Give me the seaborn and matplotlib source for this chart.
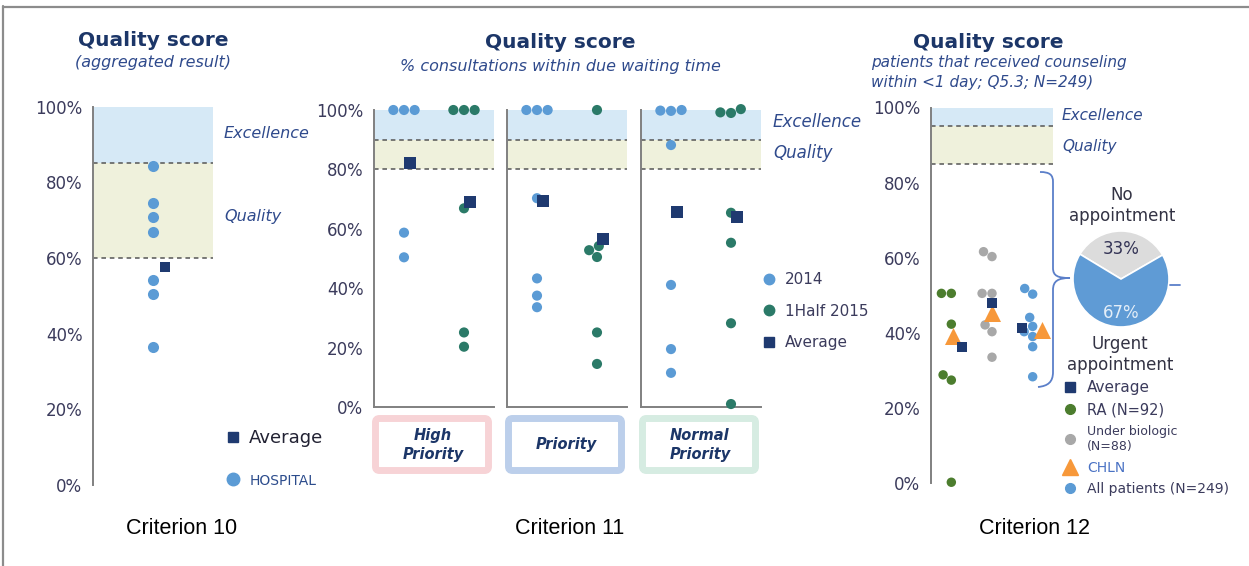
import matplotlib
matplotlib.use("Agg")
import matplotlib.pyplot as plt
import numpy as np
import pandas as pd
import seaborn as sns
from matplotlib.lines import Line2D
from matplotlib.patches import FancyBboxPatch, PathPatch
from matplotlib.path import Path
from matplotlib.ticker import FuncFormatter

W, H = 1249, 566

# ---- data ----
C10_HOSPITAL = [84.3, 74.5, 70.8, 67.0, 54.2, 50.4, 36.4]
C10_AVERAGE = 57.5
C10_BANDS = (60, 85)

C11_PRIORITIES = ["High\nPriority", "Priority", "Normal\nPriority"]
C11_PERIODS = ["2014", "1Half 2015"]
C11_2014 = [
    [100, 100, 100, 58.7, 50.4],
    [100, 100, 100, 70.3, 43.3, 37.5, 33.6],
    [100, 99.8, 99.7, 88.2, 41.1, 19.5, 11.5],
]
C11_2015 = [
    [100, 100, 100, 66.9, 25.1, 20.3],
    [100, 54.2, 52.8, 50.5, 25.1, 14.5],
    [100.3, 99.2, 99.0, 65.4, 55.3, 28.2, 1.0],
]
C11_AVG_2014 = [82.0, 69.4, 65.5]
C11_AVG_2015 = [69.1, 56.6, 63.9]
C11_BANDS = (80, 90)

C12_GROUPS = ["RA (N=92)", "Under biologic\n(N=88)", "All patients (N=249)"]
C12_RA = [50.5, 50.5, 42.3, 28.8, 27.4, 0.2]
C12_BIOLOGIC = [61.6, 60.3, 50.5, 50.5, 42.1, 40.3, 33.5]
C12_ALL = [51.8, 50.3, 44.1, 41.7, 40.3, 39.0, 36.3, 28.3]
C12_AVERAGE = [36.1, 48.0, 41.4]
C12_CHLN = [39.1, 45.3, 40.7]
C12_BANDS = (85, 95)

PIE_LABELS = ["No\nappointment", "Urgent\nappointment"]
PIE_SHARES = [33, 67]

# ---- styling ----
NAVY = "#1f3a70"
TITLE = "#1c3668"
SUB = "#2f4a8c"
TICK = "#3b3b5c"
SPINE = "#808080"
LIGHT_BLUE = "#5b9bd5"
TEAL = "#2b7a68"
GREEN = "#4c7d2e"
GREY = "#a8a8a8"
ORANGE = "#f7983a"
EXC_BAND = "#d6e9f6"
QUAL_BAND = "#eff1dc"
PIE_GREY = "#dcdcdc"
PIE_BLUE = "#5f9bd5"

AVG_SHIFT_12 = np.array([0.26, 0.0, -0.27])
CHLN_SHIFT_12 = np.array([0.03, 0.0, 0.24])
P2_LEFTS = [374, 507, 641]


def rect(left, top, right, bottom):
    return [left / W, 1 - bottom / H, (right - left) / W, (bottom - top) / H]


def style_axis(ax, ticks=True, bottom=False):
    ax.set_ylim(0, 100)
    ax.set_facecolor("none")
    ax.grid(False)
    for s in ["top", "right"]:
        ax.spines[s].set_visible(False)
    ax.spines["bottom"].set_visible(bottom)
    for s in ["left", "bottom"]:
        ax.spines[s].set_color(SPINE)
        ax.spines[s].set_linewidth(1.4)
    ax.set_xticks([])
    ax.set_xlabel("")
    ax.set_ylabel("")
    if ticks:
        ax.set_yticks(range(0, 101, 20))
        ax.yaxis.set_major_formatter(FuncFormatter(lambda v, _: f"{v:.0f}%"))
        ax.tick_params(axis="y", length=3.6, width=1.0, color=SPINE,
                       labelsize=12, labelcolor=TICK, pad=4)
    else:
        ax.set_yticks([])
    for c in ax.collections:
        c.set_clip_on(False)


def draw_bands(ax, low, high):
    ax.axhspan(high, 100, color=EXC_BAND, lw=0, zorder=0)
    ax.axhspan(low, high, color=QUAL_BAND, lw=0, zorder=0)
    for y in (low, high):
        ax.axhline(y, color="#555555", lw=1.1, ls=(0, (3, 2.5)), zorder=1)


sns.set_style("white")
plt.rcParams["font.family"] = ["DejaVu Sans"]

fig = plt.figure(figsize=(W / 100, H / 100), dpi=100)

# overlay in pixel coordinates for free text, boxes and the brace
ov = fig.add_axes([0, 0, 1, 1])
ov.set_xlim(0, W)
ov.set_ylim(H, 0)
ov.set_axis_off()
ov.set_zorder(5)

# ---------------- Criterion 10 ----------------
ax1 = fig.add_axes(rect(93, 106.7, 213, 485))
draw_bands(ax1, *C10_BANDS)
df10 = pd.DataFrame({"grp": 0, "score": C10_HOSPITAL})
sns.swarmplot(data=df10, x="grp", y="score", orient="x", color=LIGHT_BLUE,
              size=8, ax=ax1, zorder=3)
sns.scatterplot(x=[0.1], y=[C10_AVERAGE], marker="s", s=60, color=NAVY,
                linewidth=0, ax=ax1, zorder=4)
ax1.set_xlim(-0.5, 0.5)
style_axis(ax1)

leg1 = ax1.legend(
    [Line2D([], [], ls="none", marker="s", ms=7, color=NAVY),
     Line2D([], [], ls="none", marker="o", ms=9, color=LIGHT_BLUE)],
    ["Average", "HOSPITAL"], loc="upper left", bbox_to_anchor=(224, 429),
    bbox_transform=ov.transData, frameon=False, fontsize=13, handlelength=1.0,
    handletextpad=0.4, labelspacing=1.4, borderpad=0, borderaxespad=0)
t0, t1 = leg1.get_texts()
t0.set_color("#222233")
t1.set_color("#2c4c8c")
t1.set_fontsize(10)

ov.text(153, 41, "Quality score", ha="center", va="center", fontsize=14.5,
        weight="bold", color=TITLE)
ov.text(153, 62, "(aggregated result)", ha="center", va="center",
        fontsize=11.5, style="italic", color=SUB)
ov.text(224, 134, "Excellence", ha="left", va="center", fontsize=11.5,
        style="italic", color=SUB)
ov.text(224, 216, "Quality", ha="left", va="center", fontsize=11.5,
        style="italic", color=SUB)
ov.text(182, 528, "Criterion 10", ha="center", va="center", fontsize=15.5,
        family="Liberation Sans", color="black")

# ---------------- Criterion 11 ----------------
box_colors = ["#f7d3d6", "#bccfeb", "#d6ece2"]
last_ax = None
for i, left in enumerate(P2_LEFTS):
    ax = fig.add_axes(rect(left, 110, left + 120, 407))
    draw_bands(ax, *C11_BANDS)
    a, b = C11_2014[i], C11_2015[i]
    df = pd.DataFrame({
        "period": [0] * len(a) + [1] * len(b),
        "label": [C11_PERIODS[0]] * len(a) + [C11_PERIODS[1]] * len(b),
        "score": a + b,
    })
    sns.swarmplot(data=df, x="period", y="score", hue="label", orient="x",
                  palette={C11_PERIODS[0]: LIGHT_BLUE, C11_PERIODS[1]: TEAL},
                  size=7.3, legend=False, ax=ax, zorder=3)
    sns.scatterplot(x=np.arange(2) + 0.1, y=[C11_AVG_2014[i], C11_AVG_2015[i]],
                    marker="s", s=64, color=NAVY, linewidth=0, ax=ax, zorder=4)
    ax.set_xlim(-0.5, 1.5)
    style_axis(ax, ticks=(i == 0), bottom=True)
    ov.add_patch(FancyBboxPatch((left + 1.5, 418.5), 113, 52,
                                boxstyle="round,pad=0,rounding_size=4",
                                lw=5.0, ec=box_colors[i], fc="white"))
    ov.text(left + 59, 445, C11_PRIORITIES[i], ha="center", va="center",
            fontsize=10.5, weight="bold", style="italic", color=TITLE,
            linespacing=1.35)
    last_ax = ax

leg2 = last_ax.legend(
    [Line2D([], [], ls="none", marker="o", ms=7.5, color=LIGHT_BLUE),
     Line2D([], [], ls="none", marker="o", ms=7.5, color=TEAL),
     Line2D([], [], ls="none", marker="s", ms=7, color=NAVY)],
    C11_PERIODS + ["Average"], loc="upper left", bbox_to_anchor=(763, 272),
    bbox_transform=ov.transData, frameon=False, fontsize=11, handlelength=0.8,
    handletextpad=0.64, labelspacing=1.08, borderpad=0, borderaxespad=0,
    labelcolor=TICK)

ov.text(560, 42, "Quality score", ha="center", va="center", fontsize=14.5,
        weight="bold", color=TITLE)
ov.text(560, 67, "% consultations within due waiting time", ha="center",
        va="center", fontsize=11.5, style="italic", color=SUB)
ov.text(773, 122, "Excellence", ha="left", va="center", fontsize=12,
        style="italic", color=SUB)
ov.text(773, 153, "Quality", ha="left", va="center", fontsize=12,
        style="italic", color=SUB)
ov.text(570, 528, "Criterion 11", ha="center", va="center", fontsize=15.5,
        family="Liberation Sans", color="black")

# ---------------- Criterion 12 ----------------
ax3 = fig.add_axes(rect(931, 107.5, 1053, 483))
draw_bands(ax3, *C12_BANDS)
groups = [C12_RA, C12_BIOLOGIC, C12_ALL]
df12 = pd.DataFrame({
    "grp": sum([[k] * len(g) for k, g in enumerate(groups)], []),
    "label": sum([[C12_GROUPS[k]] * len(g) for k, g in enumerate(groups)], []),
    "score": sum(groups, []),
})
sns.swarmplot(data=df12, x="grp", y="score", hue="label", orient="x",
              palette=dict(zip(C12_GROUPS, [GREEN, GREY, LIGHT_BLUE])),
              size=6.8, legend=False, ax=ax3, zorder=3)
sns.scatterplot(x=np.arange(3) + CHLN_SHIFT_12, y=C12_CHLN, marker="^", s=150,
                color=ORANGE, linewidth=0, ax=ax3, zorder=4)
sns.scatterplot(x=np.arange(3) + AVG_SHIFT_12, y=C12_AVERAGE, marker="s", s=60,
                color=NAVY, linewidth=0, ax=ax3, zorder=5)
ax3.set_xlim(-0.5, 2.5)
style_axis(ax3)

leg3 = ax3.legend(
    [Line2D([], [], ls="none", marker="s", ms=7, color=NAVY),
     Line2D([], [], ls="none", marker="o", ms=7, color=GREEN),
     Line2D([], [], ls="none", marker="o", ms=7, color=GREY),
     Line2D([], [], ls="none", marker="^", ms=11, color=ORANGE),
     Line2D([], [], ls="none", marker="o", ms=7, color=LIGHT_BLUE)],
    ["Average", C12_GROUPS[0], C12_GROUPS[1], "CHLN", C12_GROUPS[2]],
    loc="upper left", bbox_to_anchor=(1063, 380), bbox_transform=ov.transData,
    frameon=False, fontsize=10.5, handlelength=1.0, handletextpad=0.64,
    labelspacing=0.52, borderpad=0, borderaxespad=0, labelcolor=TICK)
lt = leg3.get_texts()
lt[0].set_fontsize(11)
lt[2].set_fontsize(9)
lt[3].set_fontsize(10)
lt[3].set_color("#4a72c4")
lt[4].set_fontsize(10)

# pie of appointment type
axp = fig.add_axes(rect(1073, 231, 1169, 327))
wedges, texts, autotexts = axp.pie(
    PIE_SHARES, labels=PIE_LABELS, colors=[PIE_GREY, PIE_BLUE], startangle=30,
    counterclock=True, autopct="%d%%", pctdistance=0.62, labeldistance=1.53,
    wedgeprops=dict(edgecolor="white", linewidth=1.2),
    textprops=dict(fontsize=12, color="#333344"))
for w in wedges:
    w.set_clip_on(False)
for t in texts:
    t.set_ha("center")
    t.set_va("center")
texts[1].set_y(-1.58)
autotexts[0].set_color("#333355")
autotexts[1].set_color("#e4eef8")
autotexts[1].set_y(-0.7)
axp.set_xlim(-1, 1)
axp.set_ylim(-1, 1)

# brace linking the white area to the pie
brace = Path(
    [(1040, 172), (1050, 172), (1053, 175), (1053, 182),
     (1053, 268),
     (1053, 276), (1058, 278), (1070, 278),
     (1058, 278), (1053, 281), (1053, 290),
     (1053, 372),
     (1053, 382), (1048, 386), (1038, 387)],
    [Path.MOVETO, Path.CURVE4, Path.CURVE4, Path.CURVE4,
     Path.LINETO,
     Path.CURVE4, Path.CURVE4, Path.CURVE4,
     Path.CURVE4, Path.CURVE4, Path.CURVE4,
     Path.LINETO,
     Path.CURVE4, Path.CURVE4, Path.CURVE4])
ov.add_patch(PathPatch(brace, fill=False, ec="#5b7fc9", lw=1.3))
ov.plot([1170, 1180], [285, 285], color="#5b7fc9", lw=1.3)

ov.text(988, 42, "Quality score", ha="center", va="center", fontsize=14.5,
        weight="bold", color=TITLE)
ov.text(871, 63, "patients that received counseling", ha="left", va="center",
        fontsize=11, style="italic", color=SUB)
ov.text(871, 82, "within <1 day; Q5.3; N=249)", ha="left", va="center",
        fontsize=11, style="italic", color=SUB)
ov.text(1062, 116, "Excellence", ha="left", va="center", fontsize=11,
        style="italic", color=SUB)
ov.text(1062, 146, "Quality", ha="left", va="center", fontsize=11,
        style="italic", color=SUB)
ov.text(1035, 528, "Criterion 12", ha="center", va="center", fontsize=15.5,
        family="Liberation Sans", color="black")

# outer frame
ov.plot([3, W], [6.5, 6.5], color="#8c8c8c", lw=1.6)
ov.plot([3.5, 3.5], [6, H], color="#8c8c8c", lw=1.6)

fig.savefig("out.png", dpi=100)
